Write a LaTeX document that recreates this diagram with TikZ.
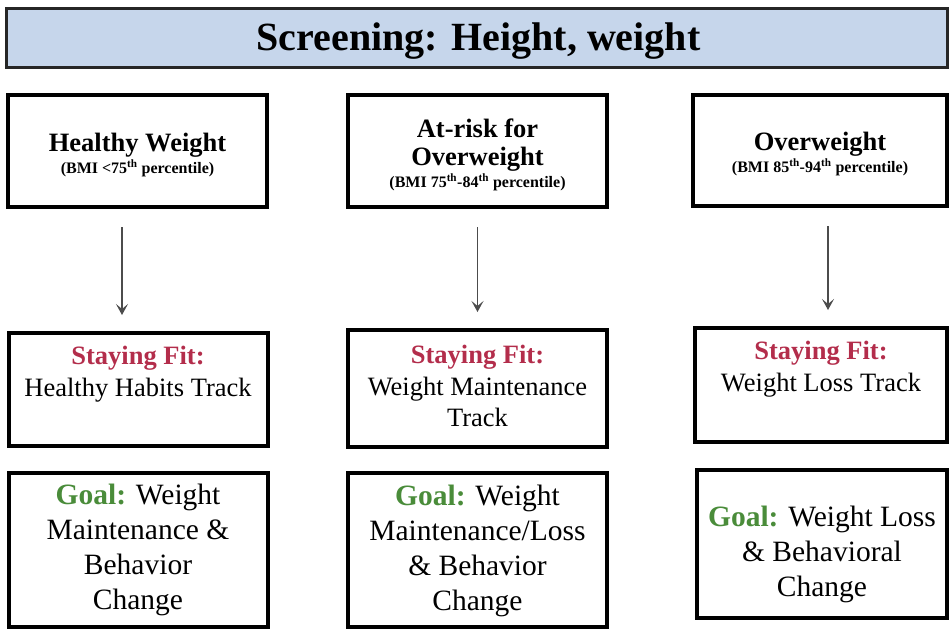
\documentclass[tikz,border=0pt]{standalone}
\usepackage{fontspec}
\setmainfont{Liberation Serif}
\usetikzlibrary{arrows.meta, positioning}
\definecolor{titleblue}{HTML}{C6D6EB}
\definecolor{fitred}{HTML}{B32D4B}
\definecolor{goalgreen}{HTML}{4A8C3A}
\newcommand{\bmifont}{\fontsize{16}{18}\selectfont\bfseries}

\begin{document}
\begin{tikzpicture}[x=1pt, y=-1pt,
        header/.style={rectangle, draw=black!85, fill=titleblue, line width=3pt, minimum width=941pt, minimum height=59pt},
        headertext/.style={font=\fontsize{40}{44}\selectfont\bfseries},
        box/.style={rectangle, draw=black, line width=4pt, minimum width=259pt, inner sep=0pt},
        screentext/.style={align=center, font=\fontsize{26.5}{28}\selectfont\bfseries},
        tracktext/.style={anchor=north, align=center, inner sep=2pt, font=\fontsize{26.5}{31.5}\selectfont},
        goaltext/.style={align=center, font=\fontsize{29.5}{35}\selectfont},
        arrow/.style={-{Stealth[length=11pt, width=12pt, inset=5pt]}, line width=1.2pt, draw=black!70, shorten <=18pt, shorten >=16pt}
    ]
    \useasboundingbox (0,0) rectangle (949,629);

    % Screening
    \node[header] (H) at (476.5, 37.5) {};
    \node[headertext] (Ht) at ([xshift=2pt, yshift=-4pt]H.center) {Screening: Height, weight};

    % BMI groups
    \node[box, minimum height=112pt] (B1) at (137.5, 151) {};
    \node[screentext] (B1t) at ([yshift=-4pt]B1.center) {Healthy Weight\\[-6pt]{\bmifont(BMI <75\textsuperscript{th} percentile)}};
    \node[box, minimum height=112pt] (B2) at (477.5, 151) {};
    \node[screentext] (B2t) at ([yshift=-4pt]B2.center) {At-risk for\\Overweight\\[-6pt]{\bmifont(BMI 75\textsuperscript{th}-84\textsuperscript{th} percentile)}};
    \node[box, minimum height=111pt, minimum width=254pt] (B3) at (820, 150.5) {};
    \node[screentext] (B3t) at ([yshift=-4pt]B3.center) {Overweight\\[-6pt]{\bmifont(BMI 85\textsuperscript{th}-94\textsuperscript{th} percentile)}};

    % Staying Fit tracks
    \node[box, minimum height=113pt] (R1) at (138, 389.5) {};
    \node[tracktext] (R1t) at ([yshift=-13pt]R1.north) {\textbf{\textcolor{fitred}{Staying Fit:}}\\Healthy Habits Track};
    \node[box, minimum height=117pt] (R2) at (477.5, 388.5) {};
    \node[tracktext] (R2t) at ([yshift=-15pt]R2.north) {\textbf{\textcolor{fitred}{Staying Fit:}}\\Weight Maintenance\\Track};
    \node[box, minimum height=114pt, minimum width=252pt] (R3) at (821, 385) {};
    \node[tracktext] (R3t) at ([yshift=-13pt]R3.north) {\textbf{\textcolor{fitred}{Staying Fit:}}\\Weight Loss Track};

    % Goals
    \node[box, minimum height=154pt] (G1) at (138, 550) {};
    \node[goaltext] (G1t) at (G1.center) {\textbf{\textcolor{goalgreen}{Goal:}} Weight\\Maintenance \&\\Behavior\\Change};
    \node[box, minimum height=154pt] (G2) at (477.5, 550) {};
    \node[goaltext] (G2t) at ([yshift=-1pt]G2.center) {\textbf{\textcolor{goalgreen}{Goal:}} Weight\\Maintenance/Loss\\\& Behavior\\Change};
    \node[box, minimum height=148pt, minimum width=250pt] (G3) at (822, 544) {};
    \node[goaltext] (G3t) at ([yshift=-10pt]G3.center) {\textbf{\textcolor{goalgreen}{Goal:}} Weight Loss\\\& Behavioral\\Change};

    % Arrows
    \draw[arrow] ([xshift=-15.5pt]B1.south) -- ([xshift=-16pt]R1.north);
    \draw[arrow] (B2.south) -- (R2.north);
    \draw[arrow] ([xshift=8pt]B3.south) -- ([xshift=7pt]R3.north);
\end{tikzpicture}
\end{document}
